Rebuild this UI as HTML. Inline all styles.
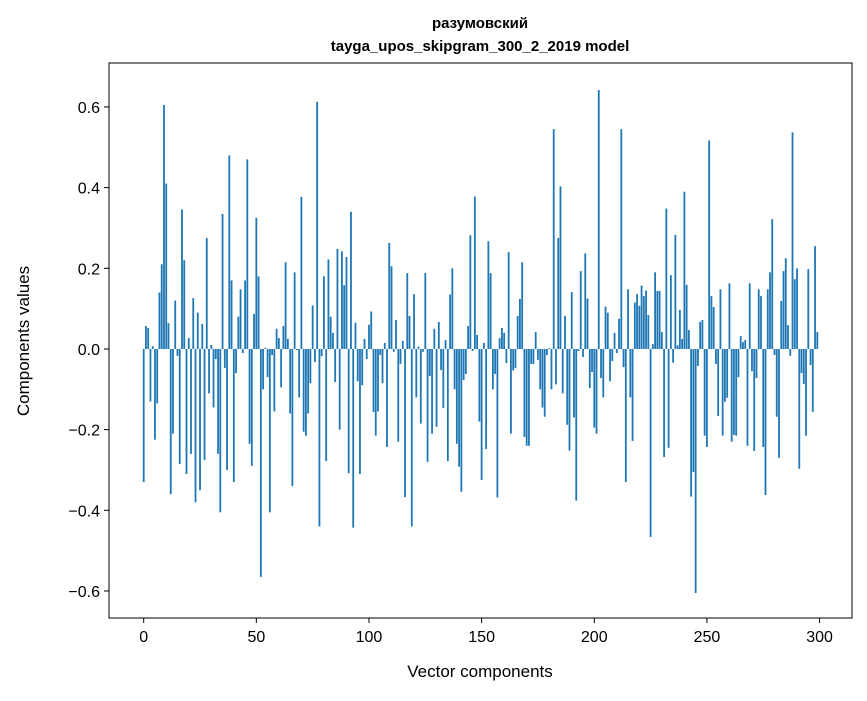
<!DOCTYPE html>
<html><head><meta charset="utf-8"><style>
body{margin:0;background:#fff;}
svg text{font-family:"Liberation Sans","DejaVu Sans",sans-serif;}
</style></head><body>
<svg id="chart" width="867" height="696" xmlns="http://www.w3.org/2000/svg">
<rect width="867" height="696" fill="#fff"/>
<text x="480" y="28" text-anchor="middle" font-size="15" font-weight="bold">разумовский</text>
<text x="480" y="51" text-anchor="middle" font-size="15" font-weight="bold">tayga_upos_skipgram_300_2_2019 model</text>
<g id="bars"></g>
<g id="xt"></g>
<g id="yt"></g>
<rect x="109" y="63" width="743" height="555" fill="none" stroke="#000" stroke-width="1"/>
<text x="480" y="677" text-anchor="middle" font-size="17">Vector components</text>
<text transform="translate(29,341) rotate(-90)" text-anchor="middle" font-size="17">Components values</text>
</svg>
<script>
const values = [-0.33,0.057,0.052,-0.13,0.007,-0.225,-0.135,0.14,0.21,0.605,0.41,0.064,-0.36,-0.21,0.12,-0.017,-0.285,0.346,0.22,-0.31,0.027,-0.26,0.126,-0.38,0.09,-0.35,0.062,-0.275,0.275,-0.11,0.01,-0.145,-0.025,-0.26,-0.405,0.335,-0.047,-0.3,0.48,0.17,-0.33,-0.06,0.08,0.148,-0.01,0.17,0.47,-0.235,-0.29,0.087,
0.325,0.18,-0.565,-0.1,0.003,-0.07,-0.405,-0.015,-0.155,0.05,0.027,-0.095,0.057,0.215,0.025,-0.16,-0.34,0.19,-0.003,-0.12,0.377,-0.205,-0.215,-0.16,-0.085,0.108,-0.032,0.613,-0.44,-0.018,0.18,-0.278,0.222,0.08,0.04,-0.082,0.248,-0.2,0.242,0.158,0.228,-0.308,0.34,-0.443,0.065,-0.08,-0.31,-0.09,0.025,-0.025,
0.06,0.093,-0.156,-0.215,-0.155,-0.015,-0.085,0.015,-0.243,0.263,0.205,-0.007,0.072,-0.23,-0.037,0.02,-0.367,0.188,0.082,-0.44,0.136,-0.12,0.006,-0.185,-0.007,0.188,-0.28,-0.067,-0.21,0.05,-0.193,0.067,-0.052,-0.146,0.022,-0.278,0.135,0.2,-0.1,-0.235,-0.292,-0.354,-0.077,-0.062,0.057,0.282,-0.005,0.378,0.035,-0.18,
-0.325,0.015,-0.248,0.267,0.188,-0.1,-0.062,-0.368,0.027,0.052,0.04,-0.035,0.24,-0.21,-0.053,-0.047,0.082,0.124,0.215,-0.218,-0.24,-0.24,-0.037,-0.037,0.042,-0.027,-0.1,-0.145,-0.168,-0.015,0.002,-0.1,0.545,-0.088,0.275,0.403,-0.11,0.082,-0.188,-0.252,0.141,-0.17,-0.376,-0.005,0.193,-0.02,0.237,0.125,-0.097,-0.057,
-0.195,-0.21,0.642,-0.072,-0.12,0.105,0.09,-0.08,-0.03,0.04,-0.01,0.075,0.545,-0.045,-0.33,0.148,-0.12,-0.228,0.115,0.136,0.107,0.157,0.131,0.145,0.084,-0.466,0.012,0.19,0.144,0.144,0.042,-0.268,0.348,-0.245,0.183,-0.034,0.283,0.009,0.097,0.025,0.39,0.159,0.047,-0.366,-0.305,-0.605,-0.042,0.067,0.072,-0.215,
-0.243,0.517,0.131,0.104,-0.037,-0.166,0.148,-0.215,-0.131,-0.121,0.163,-0.23,-0.213,-0.215,-0.07,0.032,0.017,0.022,-0.24,0.163,-0.055,-0.253,-0.072,0.148,0.131,-0.243,-0.362,0.148,0.19,0.322,-0.015,-0.168,-0.27,0.119,0.193,0.225,0.059,-0.017,0.537,0.173,0.2,-0.297,-0.06,-0.087,-0.215,0.198,-0.04,-0.156,0.255,0.042];
const xTicks = [0,50,100,150,200,250,300];
const yTicks = [-0.6,-0.4,-0.2,0.0,0.2,0.4,0.6];
const yTickLabels = ["\u22120.6","\u22120.4","\u22120.2","0.0","0.2","0.4","0.6"];

const NS="http://www.w3.org/2000/svg";
const X0=109,X1=852,Y0=63,Y1=618;
const xmin=-15.4,xmax=314.4,ymin=-0.667,ymax=0.709;
const xs=v=>X0+(v-xmin)/(xmax-xmin)*(X1-X0);
const ys=v=>Y1-(v-ymin)/(ymax-ymin)*(Y1-Y0);
const bars=document.getElementById('bars');
values.forEach((v,i)=>{
  const r=document.createElementNS(NS,'rect');
  const a=xs(i-0.4),b=xs(i+0.4);
  const y=Math.min(ys(v),ys(0)),h=Math.abs(ys(v)-ys(0));
  r.setAttribute('x',a);r.setAttribute('width',b-a);
  r.setAttribute('y',y);r.setAttribute('height',Math.max(h,0.3));
  r.setAttribute('fill','#1f77b4');
  
  
  bars.appendChild(r);
});
const xt=document.getElementById('xt');
xTicks.forEach(t=>{
  const l=document.createElementNS(NS,'line');
  l.setAttribute('x1',xs(t));l.setAttribute('x2',xs(t));
  l.setAttribute('y1',Y1);l.setAttribute('y2',Y1+5);l.setAttribute('stroke','#000');
  
  
  xt.appendChild(l);
  const s=document.createElementNS(NS,'text');
  s.setAttribute('x',xs(t));s.setAttribute('y',Y1+24);
  s.setAttribute('text-anchor','middle');s.setAttribute('font-size','16');
  s.textContent=t;
  
  
  xt.appendChild(s);
});
const yt=document.getElementById('yt');
yTicks.forEach((t,k)=>{
  const l=document.createElementNS(NS,'line');
  l.setAttribute('x1',X0-5);l.setAttribute('x2',X0);
  l.setAttribute('y1',ys(t));l.setAttribute('y2',ys(t));l.setAttribute('stroke','#000');
  
  
  yt.appendChild(l);
  const s=document.createElementNS(NS,'text');
  s.setAttribute('x',X0-9);s.setAttribute('y',ys(t)+6);
  s.setAttribute('text-anchor','end');s.setAttribute('font-size','16');
  s.textContent=yTickLabels[k];
  
  
  yt.appendChild(s);
});
</script>
</body></html>
